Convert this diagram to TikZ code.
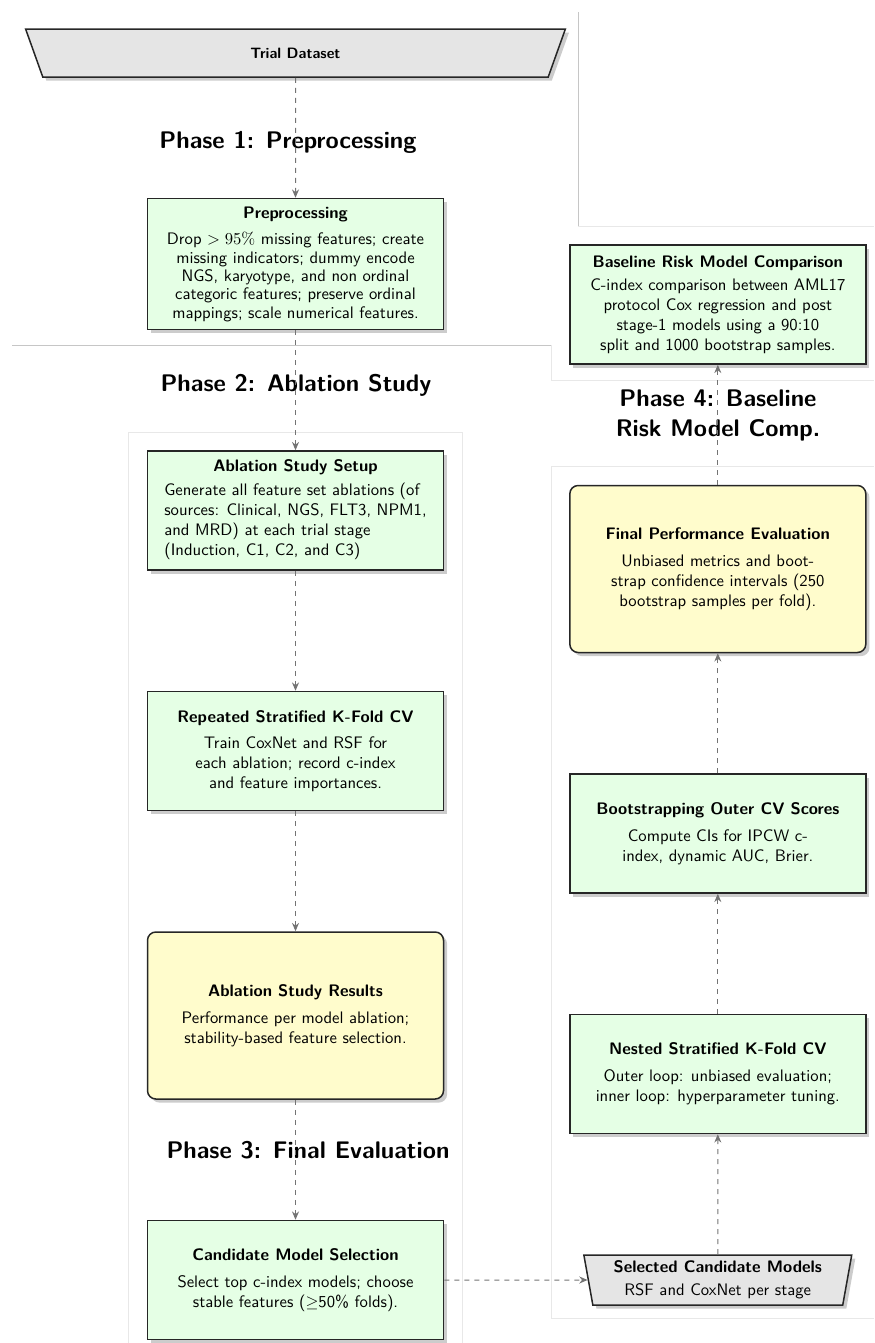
\documentclass[tikz,border=0pt]{standalone}
\usepackage{amsmath}
\usepackage{amssymb}
\usetikzlibrary{
    arrows.meta,
    positioning,
    shapes.geometric,
    shadows
}

\begin{document}
\begin{tikzpicture}[
    x=0.6pt, y=-0.6pt,
    node distance=72pt,
    box/.style={rectangle, draw=black!85, line width=0.9pt, fill=green!10, drop shadow={opacity=0.4}, minimum width=177.6pt, minimum height=71.4pt, font=\sffamily, align=center},
    resultbox/.style={box, fill=yellow!20, rounded corners=5pt, minimum height=100.2pt},
    databox/.style={trapezium, trapezium stretches=true, trapezium angle=81, shape border rotate=180, draw=black!85, line width=0.9pt, fill=gray!20, drop shadow={opacity=0.4}, font=\sffamily, align=center},
    arrow/.style={-{Stealth[length=5pt, width=4.2pt]}, dashed, gray!90!black, line width=0.6pt},
    phase/.style={font=\sffamily\Large\bfseries, align=center},
    phaseframe/.style={gray!18, line width=0.6pt}
]
\useasboundingbox (0,0) rectangle (874,1343);

% Phase frames
\draw[phaseframe, gray!45] (578,12) -- (578,226);
\draw[phaseframe, gray!45] (12,345) -- (551,345);
\draw[phaseframe] (874,226) -- (578,226);
\draw[phaseframe] (551,345) -- (551,380) -- (874,380);
\draw[phaseframe] (874,466) -- (551,466) -- (551,1318) -- (874,1318);
\draw[phaseframe] (128,1343) -- (128,432) -- (462,432) -- (462,1343);

% Left column: phases 1--3
\node[databox, minimum width=324.6pt, minimum height=28.8pt] (trial) at (295.5,53) {\small\bfseries Trial Dataset};

\node[phase] (p1-title) at (288,142) {Phase 1: Preprocessing};
\node[box, below=of trial, font=\sffamily\fontsize{10}{11}\selectfont, minimum height=78.6pt] (prep) {{\bfseries Preprocessing}\\[5pt]
    Drop $>95\%$ missing features; create\\
    missing indicators; dummy encode\\
    NGS, karyotype, and non ordinal\\
    categoric features; preserve ordinal\\
    mappings; scale numerical features.};

\node[phase] (p2-title) at (296,385) {Phase 2: Ablation Study};
\node[box, below=of prep] (setup) {{\bfseries Ablation Study Setup}\\[3pt]
    \begin{tabular}{@{}l@{}}
    Generate all feature set ablations (of\\
    sources: Clinical, NGS, FLT3, NPM1,\\
    and MRD) at each trial stage\\
    (Induction, C1, C2, and C3)
    \end{tabular}};
\node[box, below=of setup] (repcv) {{\bfseries Repeated Stratified K-Fold CV}\\[4pt]
    Train CoxNet and RSF for\\
    each ablation; record c-index\\
    and feature importances.};
\node[resultbox, below=of repcv] (ablres) {{\bfseries Ablation Study Results}\\[4pt]
    Performance per model ablation;\\
    stability-based feature selection.};

\node[phase] (p3-title) at (308,1150) {Phase 3: Final Evaluation};
\node[box, below=of ablres] (cand) {{\bfseries Candidate Model Selection}\\[4pt]
    Select top c-index models; choose\\
    stable features ($\geq$50\% folds).};

% Right column: phase 4
\node[databox, minimum width=160.8pt, minimum height=30pt, right=86pt of cand] (sel) {{\bfseries Selected Candidate Models}\\[2pt]
    RSF and CoxNet per stage};
\node[box, above=of sel] (nested) {{\bfseries Nested Stratified K-Fold CV}\\[4pt]
    Outer loop: unbiased evaluation;\\
    inner loop: hyperparameter tuning.};
\node[box, above=of nested] (boot) {{\bfseries Bootstrapping Outer CV Scores}\\[4pt]
    Compute CIs for IPCW c-\\
    index, dynamic AUC, Brier.};
\node[resultbox, above=of boot] (final) {{\bfseries Final Performance Evaluation}\\[4pt]
    Unbiased metrics and boot-\\
    strap confidence intervals (250\\
    bootstrap samples per fold).};

\node[phase] (p4-title) at (718,415) {Phase 4: Baseline\\Risk Model Comp.};
\node[box, above=of final] (base) {{\bfseries Baseline Risk Model Comparison}\\[2pt]
    C-index comparison between AML17\\
    protocol Cox regression and post\\
    stage-1 models using a 90:10\\
    split and 1000 bootstrap samples.};

% Flow
\draw[arrow] (trial) -- (prep);
\draw[arrow] (prep) -- (setup);
\draw[arrow] (setup) -- (repcv);
\draw[arrow] (repcv) -- (ablres);
\draw[arrow] (ablres) -- (cand);
\draw[arrow] (cand) -- (sel);
\draw[arrow] (sel) -- (nested);
\draw[arrow] (nested) -- (boot);
\draw[arrow] (boot) -- (final);
\draw[arrow] (final) -- (base);

\end{tikzpicture}
\end{document}
